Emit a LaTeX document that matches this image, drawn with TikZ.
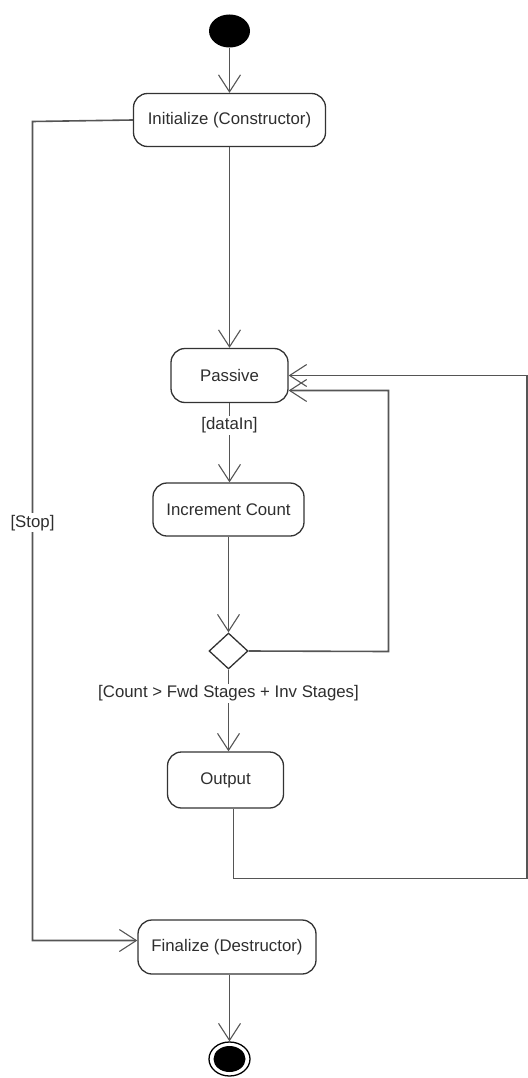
\documentclass[tikz,border=0pt]{standalone}
\usepackage{fontspec}
\setmainfont{Liberation Sans}
\usetikzlibrary{arrows.meta,shapes.geometric}
\definecolor{edge}{HTML}{555555}
\definecolor{boxline}{HTML}{333333}
\definecolor{ink}{HTML}{2E2E2E}
\tikzset{
  activity/.style={draw=boxline, line width=1.3pt, rounded corners=14pt,
    rectangle, text=ink, font=\fontsize{16.8}{20}\selectfont, inner sep=0pt},
  flow/.style={draw=edge, line width=1.6pt},
  flowarr/.style={flow, -{Straight Barb[length=17pt,width=22pt,line width=1.1pt]}},
  guard/.style={fill=white, text=ink, font=\fontsize{16.8}{20}\selectfont, inner sep=1.5pt},
  decision/.style={draw=boxline, line width=1.3pt, diamond, minimum width=39pt,
    minimum height=36pt, inner sep=0pt, aspect=1.1},
}
\begin{document}
\begin{tikzpicture}[x=1pt,y=-1pt]
\useasboundingbox (0,0) rectangle (527,1078);

% initial and final states
\node (start) [ellipse, fill=black, minimum width=41pt, minimum height=33pt, inner sep=0pt] at (229.5,31) {};
\node (stop) [ellipse, draw=black, line width=1.3pt, minimum width=41pt, minimum height=34pt, inner sep=0pt] at (229.5,1059) {};
\node (stopdot) [ellipse, fill=black, minimum width=32pt, minimum height=26pt, inner sep=0pt] at (229.5,1059) {};

% activities
\node (init) [activity, minimum width=192pt, minimum height=53pt] at (229.5,120) {Initialize (Constructor)};
\node (passive) [activity, minimum width=117pt, minimum height=54pt] at (229.5,375.5) {Passive};
\node (incr) [activity, minimum width=151pt, minimum height=53pt] at (228.5,509.5) {Increment Count};
\node (dec) [decision] at (228.5,651) {};
\node (outp) [activity, minimum width=116pt, minimum height=56pt] at (225.5,780) {Output};
\node (fin) [activity, minimum width=178pt, minimum height=54pt] at (227,947) {Finalize (Destructor)};

% bend points
\coordinate (stopcorner) at (32.5,121.5);
\coordinate (stopbottom) at (32.5,940.5);
\coordinate (looptop) at (388.5,390.5);
\coordinate (loopbot) at (388.5,651.5);
\coordinate (outdown) at (233.5,878.5);
\coordinate (outright) at (527.2,878.5);
\coordinate (outup) at (527.2,375.5);

% main flow
\draw[flowarr] (start.south) -- (start.south |- init.north);
\draw[flowarr] (init.south) -- (init.south |- passive.north);
\draw[flowarr] (passive.south) -- node[guard, pos=0.28] {[dataIn]} (passive.south |- incr.north);
\draw[flowarr] (incr.south) -- (incr.south |- dec.north);
\draw[flowarr] (dec.south) -- node[guard, pos=0.29] {[Count > Fwd Stages + Inv Stages]} (dec.south |- outp.north);
\draw[flowarr] (fin.south -| stop.north) -- (stop.north);

% loop back from the decision
\draw[flowarr] (dec.east) -- (loopbot) -- (looptop) -- (looptop -| passive.east);

% loop back from the output
\draw[flowarr] (outdown |- outp.south) -- (outdown) -- (outright) -- (outup) -- (outup -| passive.east);

% stop branch
\draw[flowarr] (init.west) -- (stopcorner) -- node[guard, pos=0.49] {[Stop]} (stopbottom) -- (stopbottom -| fin.west);
\end{tikzpicture}
\end{document}
